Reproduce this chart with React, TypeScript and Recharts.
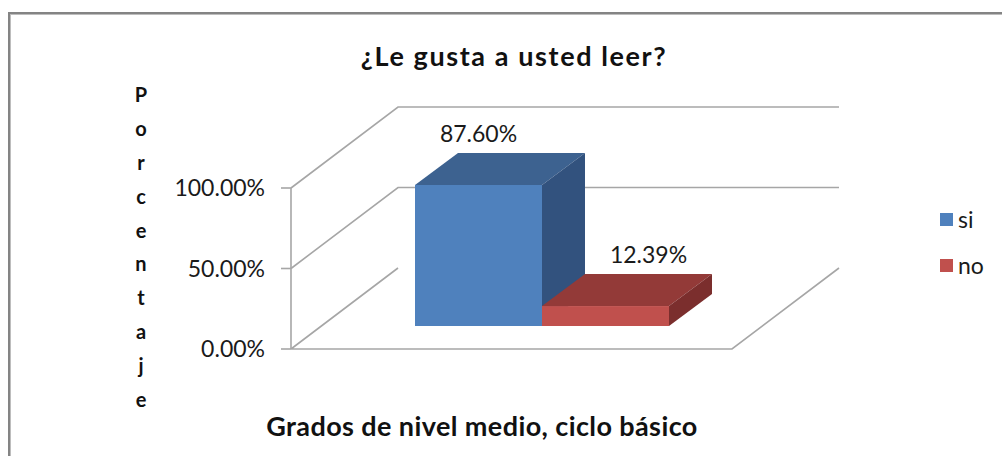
import { BarChart, Bar, XAxis, YAxis, CartesianGrid, LabelList } from "recharts"

const categories = ["Grados de nivel medio, ciclo básico"]
const siValues = [0.876]
const noValues = [0.1239]
const yTicks = [0, 0.5, 1]
const seriesNames = ["si", "no"]
const axisLetters = ["P", "o", "r", "c", "e", "n", "t", "a", "j", "e"]

const chartData = categories.map((name, i) => ({
  name,
  si: siValues[i],
  no: noValues[i],
}))

// shades per series: front, top, side
const SHADES = {
  si: ["#4f81bd", "#3d6290", "#32527e"],
  no: ["#c0504d", "#933a38", "#7b2e2d"],
}

// fake 3d offsets
const WALL_DX = 107
const WALL_DY = 81
const FRONT_DX = 30
const FRONT_DY = 23
const BAR_DX = 43
const BAR_DY = 32

const GRID = "#a6a6a6"
const FONT = "Lato, 'Open Sans', sans-serif"

const pct = (v: number) => `${(v * 100).toFixed(2)}%`

const make3DBar = (key: "si" | "no") => (props: any) => {
  const { x, y, width, height } = props
  const [front, top, side] = SHADES[key]
  const fx = x + FRONT_DX
  const fy = y - FRONT_DY
  return (
    <g>
      <rect x={fx} y={fy} width={width} height={height} fill={front} />
      <path
        d={`M${fx},${fy} L${fx + BAR_DX},${fy - BAR_DY} L${fx + width + BAR_DX},${fy - BAR_DY} L${fx + width},${fy} Z`}
        fill={top}
      />
      <path
        d={`M${fx + width},${fy} L${fx + width + BAR_DX},${fy - BAR_DY} L${fx + width + BAR_DX},${fy + height - BAR_DY} L${fx + width},${fy + height} Z`}
        fill={side}
      />
    </g>
  )
}

const makeLabel = (shift: number) => (props: any) => {
  const { x, y, width, value } = props
  return (
    <text
      x={x + width / 2 + FRONT_DX + shift}
      y={y - FRONT_DY - 52}
      textAnchor="middle"
      dominantBaseline="central"
      fontSize={23}
      fontFamily={FONT}
      fill="#1a1a1a"
    >
      {pct(value)}
    </text>
  )
}

const gridLine = (props: any) => {
  const { x1, y1, x2, y, height } = props
  const isFloor = Math.abs(y1 - (y + height)) < 1
  const d = isFloor
    ? `M${x1},${y1} L${x1 + WALL_DX},${y1 - WALL_DY} M${x1},${y1} L${x2},${y1} L${x2 + WALL_DX},${y1 - WALL_DY}`
    : `M${x1},${y1} L${x1 + WALL_DX},${y1 - WALL_DY} L${x2 + WALL_DX},${y1 - WALL_DY}`
  return <path key={props.key} d={d} stroke={GRID} strokeWidth={1.6} fill="none" />
}

export default function App() {
  return (
    <div
      style={{
        position: "absolute",
        left: 0,
        top: 0,
        width: 1002,
        height: 456,
        overflow: "hidden",
        background: "#fff",
        fontFamily: FONT,
      }}
    >
      <div
        style={{
          position: "absolute",
          left: 8,
          top: 12,
          width: 1100,
          height: 500,
          borderTop: "2px solid #848484",
          borderLeft: "2px solid #848484",
          boxShadow: "inset 1px 1px 0 #bdbdbd",
        }}
      />
      <div
        style={{
          position: "absolute",
          left: 0,
          width: 1028,
          top: 39,
          textAlign: "center",
          fontWeight: 700,
          fontSize: 27,
          letterSpacing: 1.6,
          color: "#111",
        }}
      >
        ¿Le gusta a usted leer?
      </div>
      <div style={{ position: "absolute", left: 127, top: 78, width: 28, textAlign: "center" }}>
        {axisLetters.map((ch, i) => (
          <div key={i} style={{ height: 33.9, lineHeight: "33.9px", fontWeight: 700, fontSize: 20, color: "#111" }}>
            {ch}
          </div>
        ))}
      </div>
      <div
        style={{
          position: "absolute",
          left: 0,
          width: 964,
          top: 409,
          textAlign: "center",
          fontWeight: 700,
          fontSize: 27,
          letterSpacing: 0.4,
          color: "#111",
        }}
      >
        {categories[0]}
      </div>
      <div style={{ position: "absolute", left: 940, top: 196 }}>
        {seriesNames.map((s) => (
          <div key={s} style={{ display: "flex", alignItems: "center", height: 46 }}>
            <span style={{ width: 13, height: 13, background: SHADES[s as "si" | "no"][0], marginRight: 5 }} />
            <span style={{ fontSize: 23, color: "#1a1a1a" }}>{s}</span>
          </div>
        ))}
      </div>
      <div style={{ position: "absolute", left: 0, top: 0 }}>
        <BarChart
          width={1002}
          height={456}
          data={chartData}
          margin={{ top: 188, right: 270, bottom: 107, left: 0 }}
          barGap={0}
          barSize={127}
        >
          <CartesianGrid vertical={false} horizontal={gridLine} />
          <XAxis dataKey="name" hide />
          <YAxis
            width={291}
            domain={[0, 1]}
            ticks={yTicks}
            tickFormatter={pct}
            axisLine={{ stroke: GRID, strokeWidth: 1.6 }}
            tickLine={{ stroke: GRID, strokeWidth: 1.6 }}
            tickSize={10}
            tickMargin={16}
            tick={{ fill: "#1a1a1a", fontSize: 23, fontFamily: FONT }}
          />
          <Bar dataKey="si" shape={make3DBar("si")} isAnimationActive={false}>
            <LabelList dataKey="si" content={makeLabel(0)} />
          </Bar>
          <Bar dataKey="no" shape={make3DBar("no")} isAnimationActive={false}>
            <LabelList dataKey="no" content={makeLabel(BAR_DX)} />
          </Bar>
        </BarChart>
      </div>
    </div>
  )
}
